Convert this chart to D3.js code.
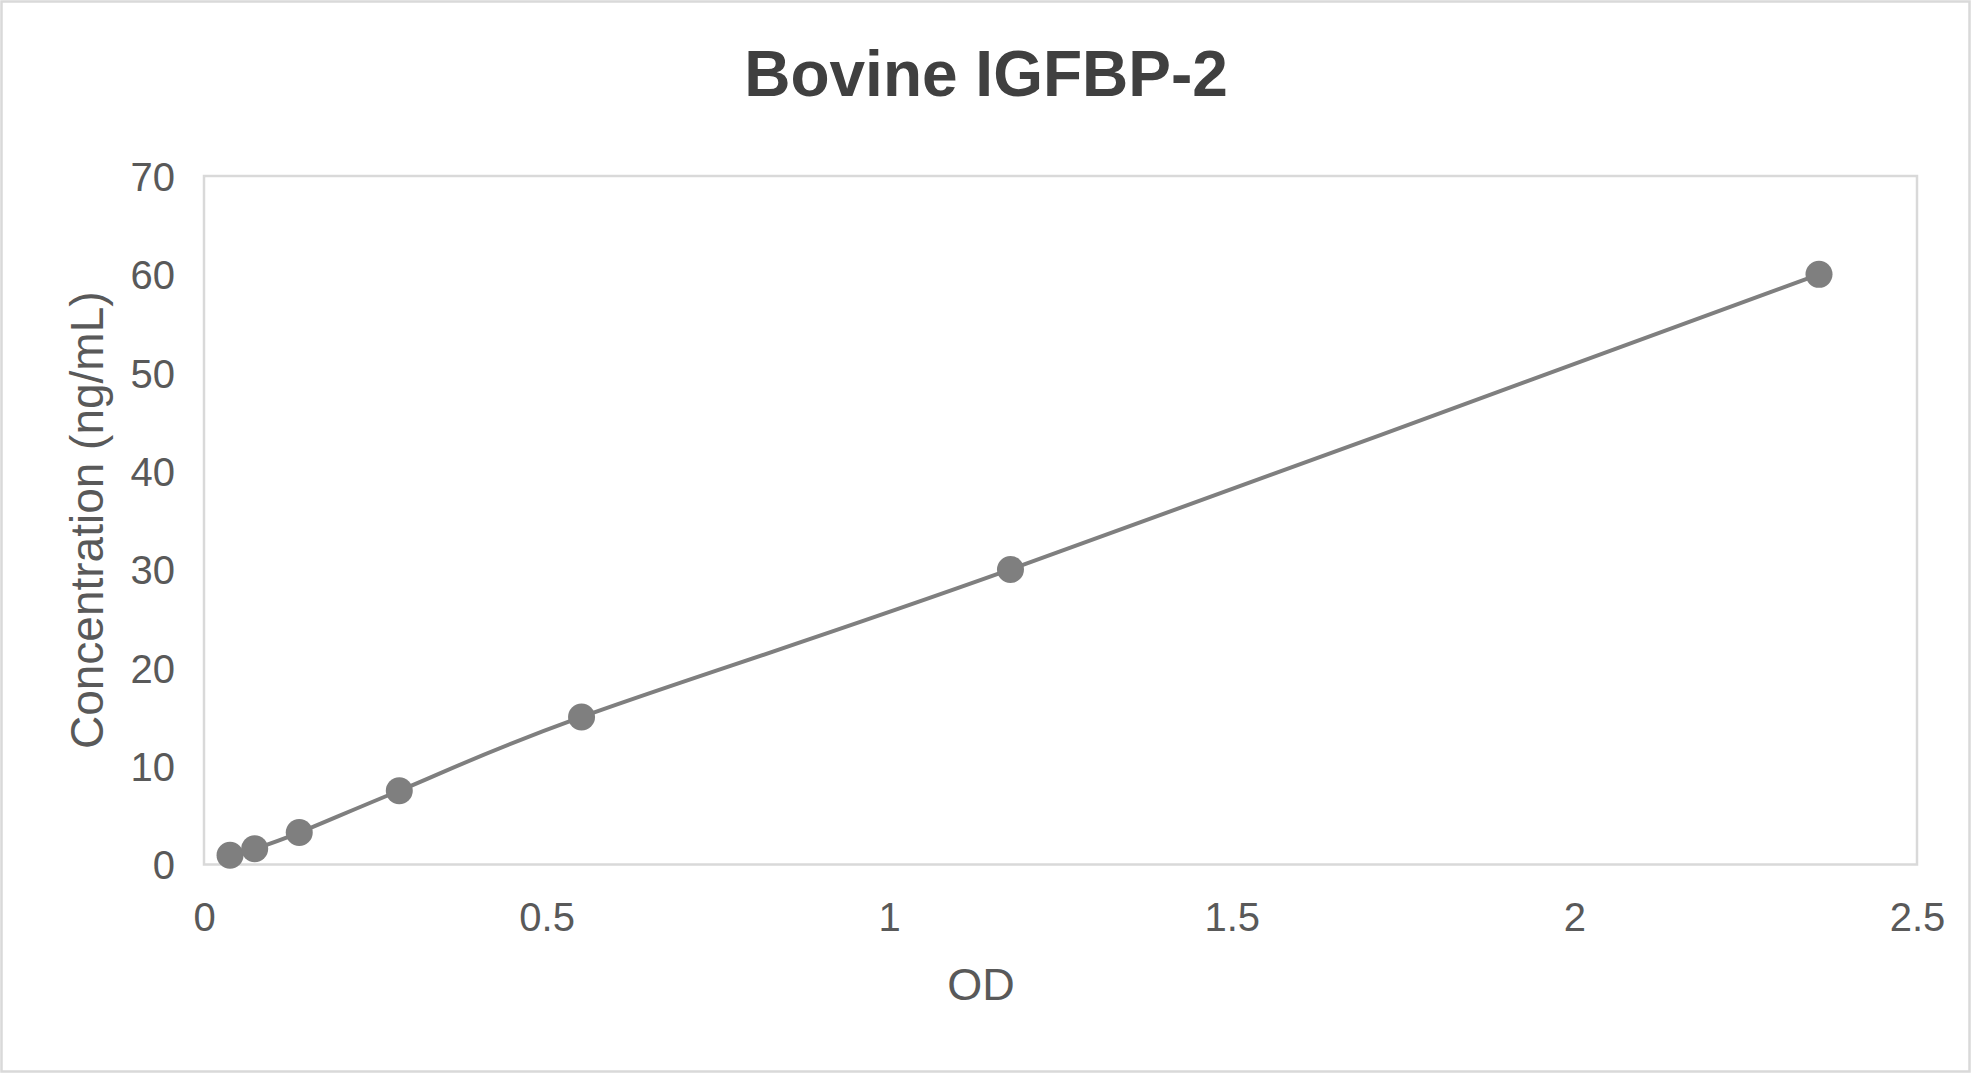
<!DOCTYPE html>
<html>
<head>
<meta charset="utf-8">
<script src="https://cdn.jsdelivr.net/npm/d3@7"></script>
<style>
  html, body { margin: 0; padding: 0; background: #fff; }
  svg { display: block; font-family: "Liberation Sans", Arial, sans-serif; }
</style>
</head>
<body>
<script>
const title = "Bovine IGFBP-2";
const xTitle = "OD";
const yTitle = "Concentration (ng/mL)";
const odValues = [0.038, 0.074, 0.139, 0.285, 0.551, 1.177, 2.357];
const concValues = [0.94, 1.6, 3.25, 7.5, 15, 30, 60];
const xTicks = [0, 0.5, 1, 1.5, 2, 2.5];
const yTicks = [0, 10, 20, 30, 40, 50, 60, 70];

const W = 1971, H = 1073;
const plot = { left: 204, top: 176, right: 1917, bottom: 864.5 };

const svg = d3.select("body").append("svg").attr("width", W).attr("height", H);

svg.append("rect").attr("x", 1.5).attr("y", 1.5).attr("width", W - 3).attr("height", H - 3)
  .attr("fill", "#fff").attr("stroke", "#d9d9d9").attr("stroke-width", 2.5);

const x = d3.scaleLinear().domain([0, 2.5]).range([plot.left, plot.right]);
const y = d3.scaleLinear().domain([0, 70]).range([plot.bottom, plot.top]);

svg.append("rect").attr("x", plot.left).attr("y", plot.top)
  .attr("width", plot.right - plot.left).attr("height", plot.bottom - plot.top)
  .attr("fill", "none").attr("stroke", "#d9d9d9").attr("stroke-width", 2.5);

// Axes
const xAxis = svg.append("g").attr("transform", `translate(0,${plot.bottom})`)
  .call(d3.axisBottom(x).tickValues(xTicks).tickSize(0).tickPadding(0).tickFormat(d3.format("")));
xAxis.select(".domain").remove();
xAxis.selectAll("text").attr("fill", "#595959").attr("font-size", 40)
  .attr("dy", null).attr("y", 66);

const yAxis = svg.append("g").attr("transform", `translate(${plot.left},0)`)
  .call(d3.axisLeft(y).tickValues(yTicks).tickSize(0).tickPadding(29).tickFormat(d3.format("")));
yAxis.select(".domain").remove();
yAxis.selectAll("text").attr("fill", "#595959").attr("font-size", 40).attr("dy", "0.36em");

// Titles
svg.append("text").attr("x", 986).attr("y", 96).attr("text-anchor", "middle")
  .attr("font-size", 64).attr("font-weight", "bold").attr("fill", "#404040").text(title);
svg.append("text").attr("x", 981).attr("y", 1000).attr("text-anchor", "middle")
  .attr("font-size", 45).attr("fill", "#595959").text(xTitle);
svg.append("text").attr("transform", `translate(103,${(plot.top + plot.bottom) / 2}) rotate(-90)`)
  .attr("text-anchor", "middle").attr("font-size", 46).attr("fill", "#595959").text(yTitle);

// Data
const data = odValues.map((v, i) => ({ od: v, c: concValues[i] }));
const line = d3.line().x(d => x(d.od)).y(d => y(d.c)).curve(d3.curveCardinal.tension(0));
svg.append("path").datum(data).attr("d", line).attr("fill", "none")
  .attr("stroke", "#7f7f7f").attr("stroke-width", 4).attr("stroke-linecap", "round");
svg.append("g").selectAll("circle").data(data).join("circle")
  .attr("cx", d => x(d.od)).attr("cy", d => y(d.c)).attr("r", 13.5)
  .attr("fill", "#7f7f7f");
</script>
</body>
</html>
